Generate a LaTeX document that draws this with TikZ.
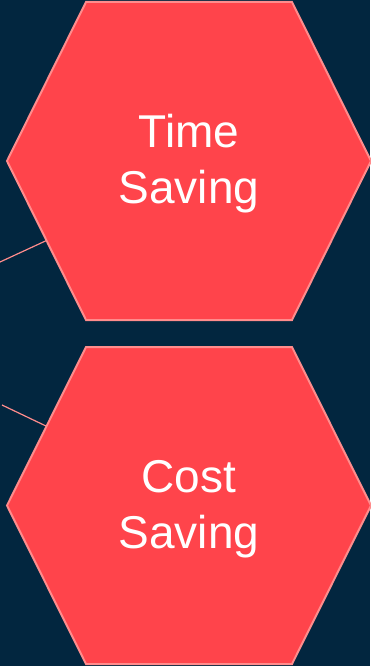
\documentclass[tikz,border=0pt]{standalone}
\usepackage{fontspec}
\setmainfont{Liberation Sans}
\usetikzlibrary{calc}
\definecolor{navy}{RGB}{2,38,63}
\definecolor{coral}{RGB}{255,68,75}
\definecolor{blush}{RGB}{255,140,140}
\tikzstyle{hexagon} = [draw=blush, fill=coral, line width=2pt]
\tikzstyle{caption} = [text=white, align=center, font=\fontsize{46}{56}\selectfont]
\tikzstyle{link} = [draw=blush, line width=1.2pt]

\begin{document}
\begin{tikzpicture}[x=1pt, y=-1pt]
			\fill [navy] (0,0) rectangle (370,666);
			\useasboundingbox (0,0) rectangle (370,666);
			\coordinate (timeW) at (7,161);
			\coordinate (timeSW) at (86,320);
			\coordinate (costNW) at (86,347);
			\coordinate (costW) at (7,505.5);
			\coordinate (in1) at (0,262);
			\coordinate (in2) at (2,405);
			\path [hexagon] (86,2) -- (292,2) -- (371,161) -- (292,320) -- (timeSW) -- (timeW) -- cycle;
			\path [hexagon] (costNW) -- (292,347) -- (371,505.5) -- (292,664) -- (86,664) -- (costW) -- cycle;
			\node [caption] (time) at (189,164) {Time\\Saving};
			\node [caption] (cost) at (189,509) {Cost\\Saving};
			\path [link] (in1) -- ($(timeW)!0.5!(timeSW)$);
			\path [link] (in2) -- ($(costNW)!0.5!(costW)$);
		\end{tikzpicture}
\end{document}
